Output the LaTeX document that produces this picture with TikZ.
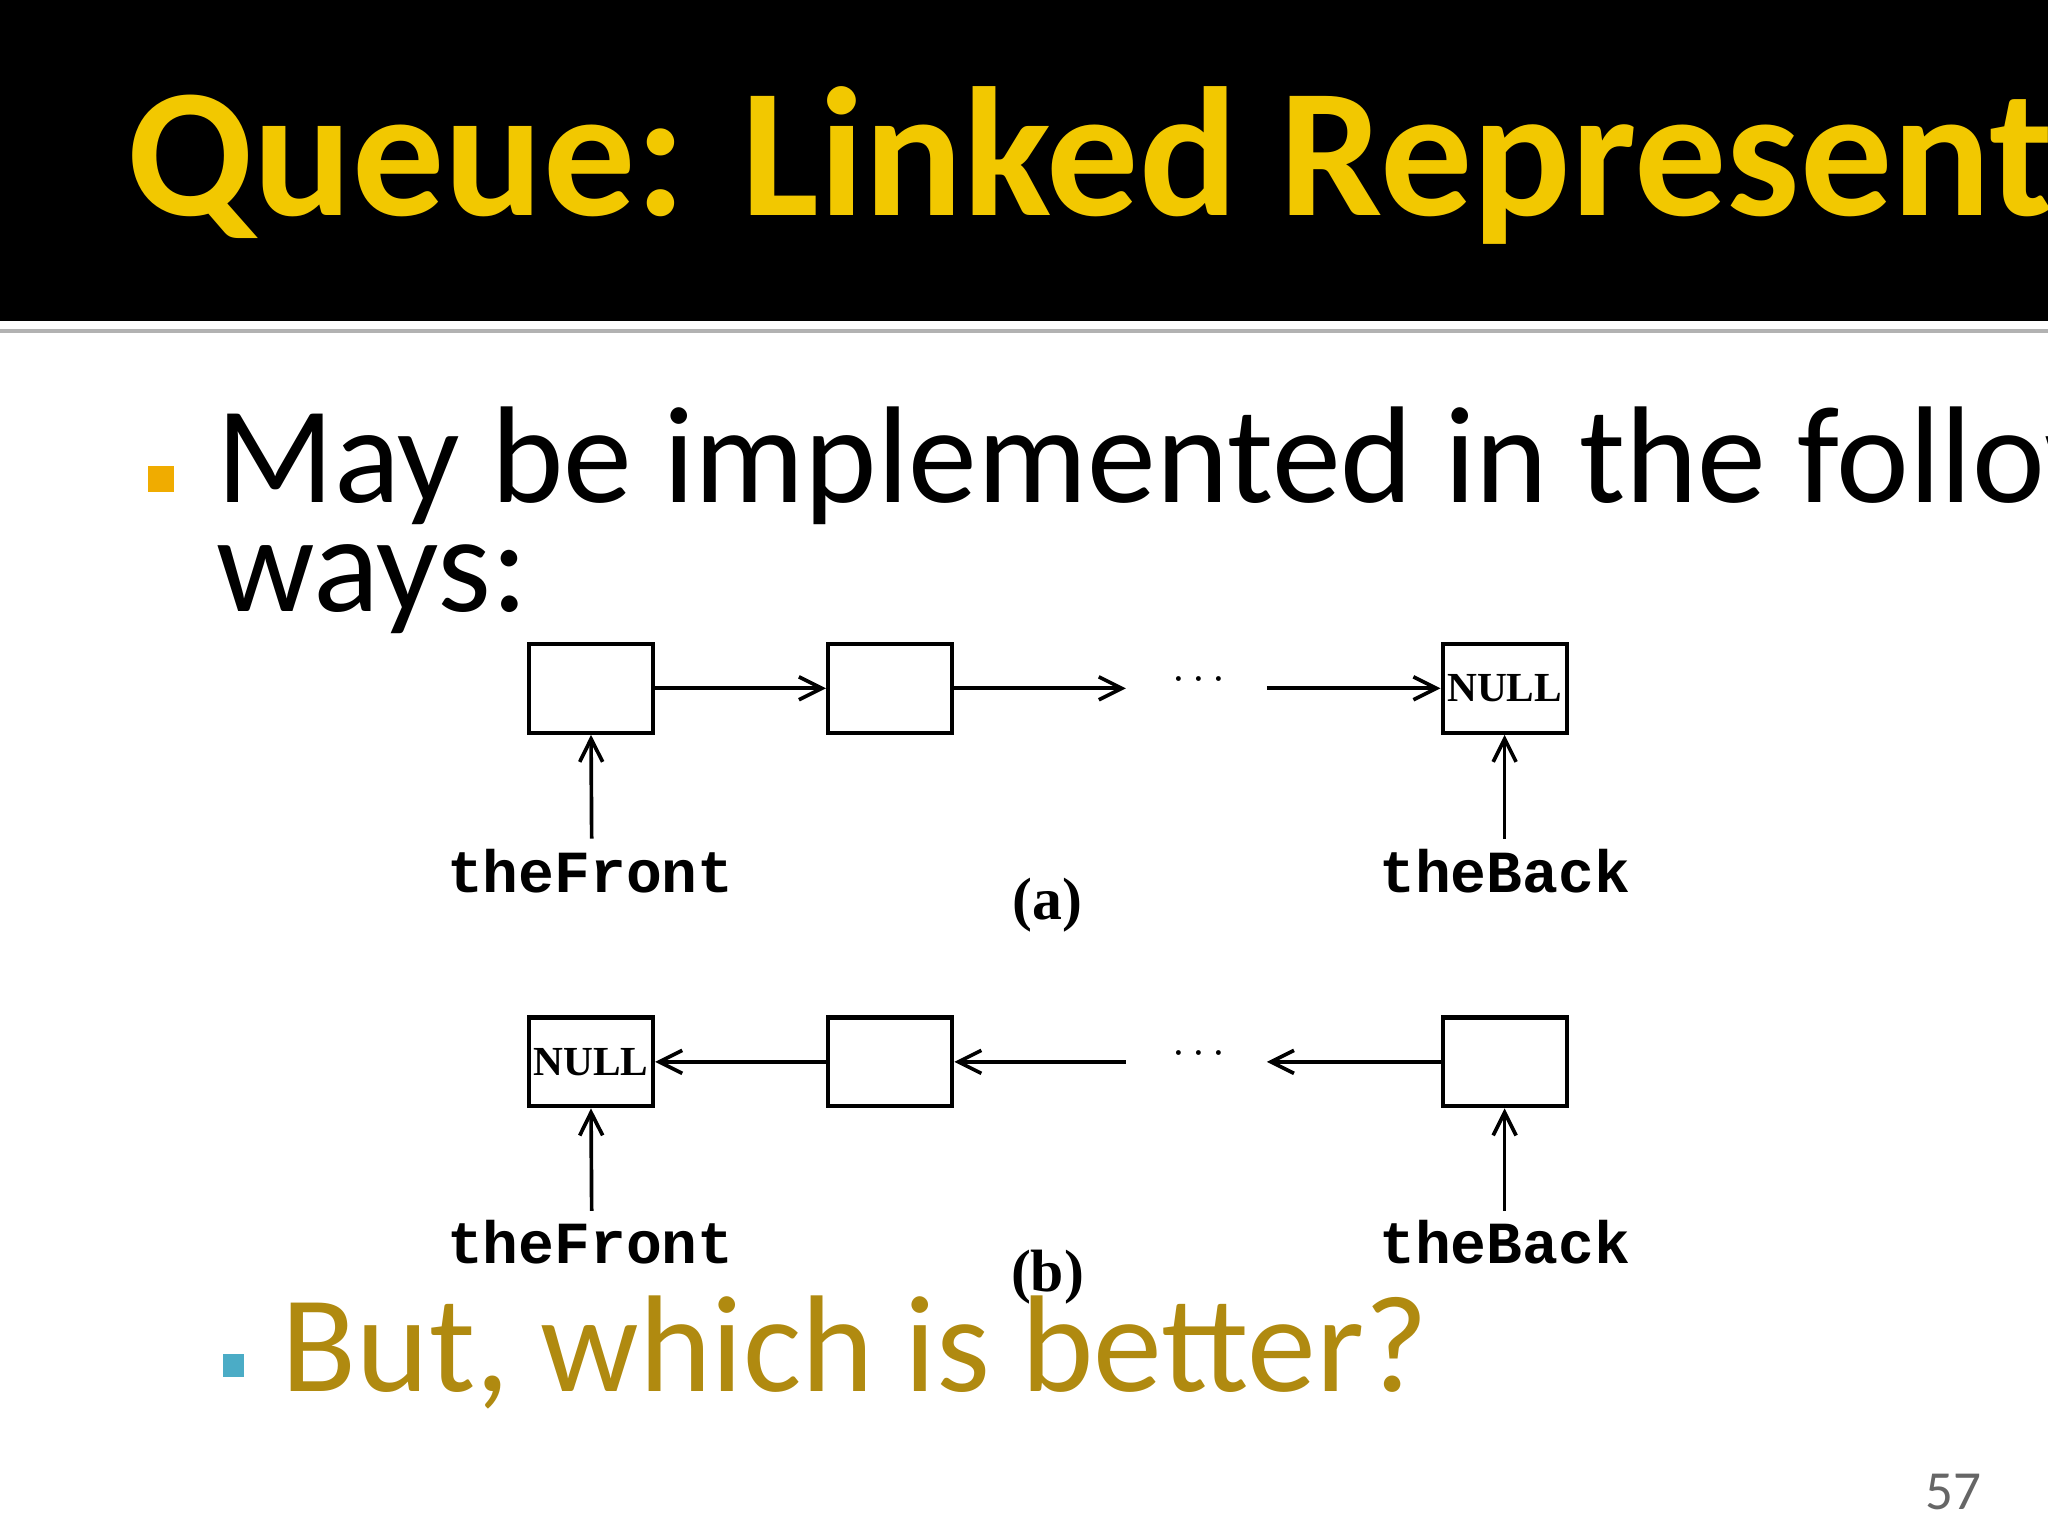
\documentclass[tikz,border=0pt]{standalone}
\usetikzlibrary{arrows.meta}
\usepackage{fontspec}
\setmainfont{Carlito}
\newfontfamily\monob{Liberation Mono}
\newfontfamily\serifb{Liberation Serif}
\definecolor{titley}{HTML}{F2C800}
\definecolor{bulo}{HTML}{F0AC00}
\definecolor{bulc}{HTML}{4BACC6}
\definecolor{gold}{HTML}{B08A10}
\begin{document}
\begin{tikzpicture}[x=0.01cm,y=-0.01cm,
  cell/.style={draw,line width=0.9pt,minimum width=0.95cm,minimum height=0.68cm,inner sep=0pt,font=\serifb\bfseries\fontsize{9}{9}\selectfont},
  ptr/.style={line width=0.8pt,-{Straight Barb[length=5pt,width=5pt]}},
  lbl/.style={font=\monob\bfseries\fontsize{13}{13}\selectfont,anchor=center},
  subcap/.style={font=\serifb\bfseries\fontsize{13}{13}\selectfont}]
\useasboundingbox (0,0) rectangle (1568,1176);
\fill[white] (0,0) rectangle (1568,1176);
\fill[black] (0,0) rectangle (1568,246);
\fill[gray!60] (0,252) rectangle (1568,255);
\node[anchor=base west,inner sep=0pt,text=titley,font=\bfseries\fontsize{40}{40}\selectfont] (title) at (97,165) {Queue: Linked Representation};
\fill[bulo] (113,357) rectangle (133,377);
\node[anchor=base west,inner sep=0pt,font=\fontsize{30}{30}\selectfont] (l1) at (165,385) {May be implemented in the following two};
\node[anchor=base west,inner sep=0pt,font=\fontsize{30}{30}\selectfont] (l2) at (165,468) {ways:};
% (a)
\node[cell] (a1) at (452.5,527) {};
\node[cell] (a2) at (681.5,527) {};
\node[cell] (a3) at (1152,527) {NULL};
\node (ad) at (918,521) {$\cdots$};
\coordinate (ae1) at (862,527);
\coordinate (as3) at (970,527);
\draw[ptr] (a1.east) -- (a2.west);
\draw[ptr] (a2.east) -- (ae1);
\draw[ptr] (as3) -- (a3.west);
\node[lbl] (af) at (452,667) {theFront};
\node[lbl] (ab) at (1152,667) {theBack};
\draw[ptr] (453,642) -- (a1.south);
\draw[ptr] (1152,642) -- (a3.south);
\node[subcap] (ca) at (802,693) {(a)};
% (b)
\node[cell] (b1) at (452.5,813) {NULL};
\node[cell] (b2) at (681.5,813) {};
\node[cell] (b3) at (1152,813) {};
\node (bd) at (918,807) {$\cdots$};
\coordinate (be1) at (862,813);
\coordinate (bs3) at (970,813);
\draw[ptr] (b2.west) -- (b1.east);
\draw[ptr] (be1) -- (b2.east);
\draw[ptr] (b3.west) -- (bs3);
\node[lbl] (bf) at (452,951) {theFront};
\node[lbl] (bb) at (1152,951) {theBack};
\draw[ptr] (453,927) -- (b1.south);
\draw[ptr] (1152,927) -- (b3.south);
\node[subcap] (cb) at (802,978) {(b)};
% sub bullet
\fill[bulc] (171,1037) rectangle (187,1054);
\node[anchor=base west,inner sep=0pt,text=gold,font=\fontsize{30}{30}\selectfont] (l3) at (215,1065) {But, which is better?};
\node[anchor=base east,inner sep=0pt,text=gray!80!black,font=\fontsize{12}{12}\selectfont] (pg) at (1518,1156) {57};
\end{tikzpicture}
\end{document}
